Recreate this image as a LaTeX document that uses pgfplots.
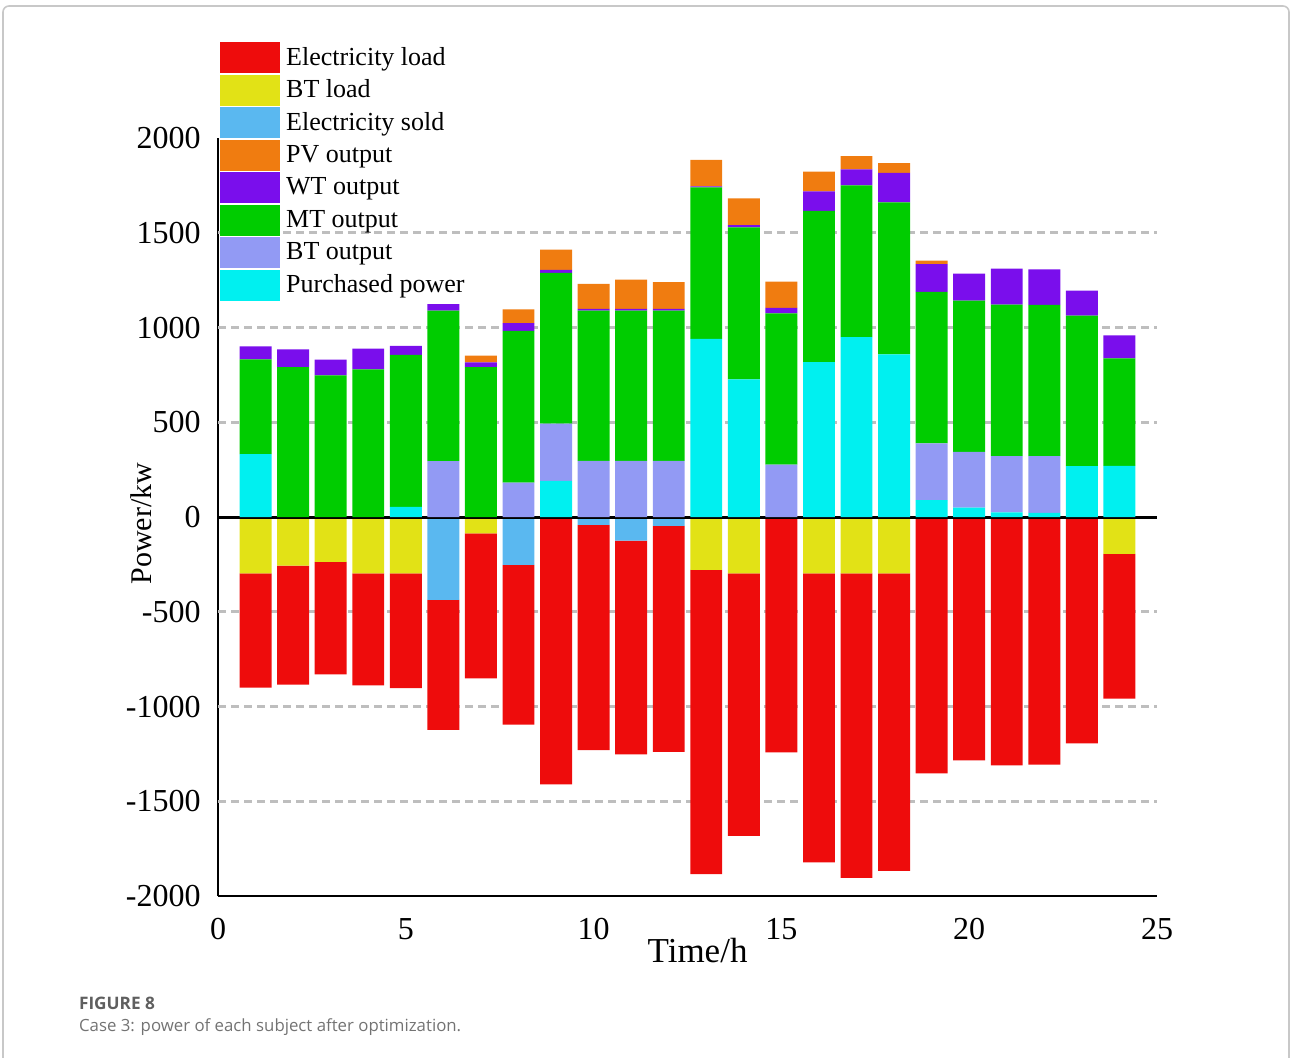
\documentclass[border=0pt]{standalone}
\usepackage{pgfplots}
\pgfplotsset{compat=1.18}
\usepackage{pgfplotstable}
\usepackage{fontspec}
\setmainfont{Liberation Serif}
\newfontfamily\capfont{Open Sans}

\definecolor{cEL}{RGB}{238,12,12}
\definecolor{cBTL}{RGB}{226,226,22}
\definecolor{cSOLD}{RGB}{90,184,240}
\definecolor{cPV}{RGB}{240,124,16}
\definecolor{cWT}{RGB}{122,14,236}
\definecolor{cMT}{RGB}{0,204,0}
\definecolor{cBTO}{RGB}{146,154,244}
\definecolor{cPT}{RGB}{0,240,240}
\definecolor{gridgray}{RGB}{190,190,190}
\definecolor{framegray}{RGB}{200,200,200}
\definecolor{capdark}{RGB}{95,95,95}
\definecolor{caplight}{RGB}{115,115,115}

% hourly power balance (kW); supply positive, consumption negative
\pgfplotstableread{
h  pt   bto  mt   wt   pv   btl   sold  el
1  332  0    500  68   0    -298  0     -602
2  0    0    791  93   0    -256  0     -628
3  0    0    747  83   0    -237  0     -593
4  0    0    779  109  0    -298  0     -590
5  54   0    802  47   0    -298  0     -605
6  0    295  794  34   0    0     -437  -686
7  0    0    791  25   35   -86   0     -765
8  0    182  800  41   73   0     -253  -843
9  191  302  795  16   107  0     0     -1411
10 0    296  793  9    132  0     -42   -1188
11 0    296  793  9    155  0     -125  -1128
12 0    296  793  9    141  0     -47   -1192
13 940  0    800  5    140  -279  0     -1606
14 726  0    802  12   142  -297  0     -1385
15 0    277  798  28   139  0     0     -1242
16 818  0    798  102  105  -297  0     -1526
17 949  0    801  84   70   -297  0     -1607
18 858  0    802  156  51   -297  0     -1570
19 89   299  800  147  18   0     0     -1353
20 49   295  798  142  0    0     0     -1284
21 25   296  800  190  0    0     0     -1311
22 22   299  798  188  0    0     0     -1307
23 268  0    795  132  0    0     0     -1195
24 270  0    567  121  0    -195  0     -763
}\powertable

\pgfplotsset{
  base/.style={
    at={(109pt,-448pt)}, anchor=south west,
    scale only axis, width=469.5pt, height=379pt,
    xmin=0, xmax=25, ymin=-2000, ymax=2000,
    ybar stacked, bar width=0.85,
  },
  sq/.style={legend image code/.code={\fill[#1] (0pt,-7.5pt) rectangle (29.5pt,7.5pt);}},
}

\begin{document}
\begin{tikzpicture}
\useasboundingbox (0,0) rectangle (645pt,-528.5pt);
\draw[framegray, line width=0.8pt, rounded corners=3pt] (1.5pt,-3pt) rectangle (644.5pt,-545pt);

% consumption side: stacked downward from zero
\begin{axis}[base,
  axis x line=bottom, axis y line=left,
  axis line style={-, line width=1.2pt},
  xtick={0,5,...,25}, ytick={-2000,-1500,...,2000},
  major tick length=0pt,
  tick label style={font=\fontsize{16}{18}\selectfont},
  /pgf/number format/assume math mode=true,
  /pgf/number format/1000 sep={},
  yticklabel style={inner sep=0pt, xshift=-8.5pt},
  xticklabel style={inner sep=0pt, yshift=-11pt},
  extra y ticks={-1500,-1000,-500,500,1000,1500},
  extra y tick labels={},
  extra y tick style={grid=major},
  major grid style={gridgray, line width=1.3pt, dash pattern=on 4pt off 2.5pt},
  xlabel={Time/h},
  xlabel style={font=\fontsize{17.5}{20}\selectfont, at={(axis description cs:0.5107,0)}, anchor=base, yshift=-33pt},
  ylabel={Power/kw},
  ylabel style={font=\fontsize{15}{18}\selectfont, at={(axis description cs:-0.0703,0.4914)}, anchor=base},
]
\addplot[fill=cBTL, draw=none] table[x=h, y=btl]{\powertable};
\addplot[fill=cSOLD, draw=none] table[x=h, y=sold]{\powertable};
\addplot[fill=cEL, draw=none] table[x=h, y=el]{\powertable};
\end{axis}

% supply side: stacked upward from zero
\begin{axis}[base, hide axis,
  legend cell align=left,
  legend style={at={(axis description cs:0.0021,1.1266)}, anchor=north west,
    draw=none, fill=none, inner sep=0pt, row sep=0.85pt, column sep=3pt,
    nodes={inner sep=0pt},
    font=\fontsize{13}{15}\selectfont},
]
\addlegendimage{sq=cEL}\addlegendentry{Electricity load}
\addlegendimage{sq=cBTL}\addlegendentry{BT load}
\addlegendimage{sq=cSOLD}\addlegendentry{Electricity sold}
\addlegendimage{sq=cPV}\addlegendentry{PV output}
\addlegendimage{sq=cWT}\addlegendentry{WT output}
\addlegendimage{sq=cMT}\addlegendentry{MT output}
\addlegendimage{sq=cBTO}\addlegendentry{BT output}
\addlegendimage{sq=cPT}\addlegendentry{Purchased power}
\addplot[fill=cPT, draw=none, forget plot] table[x=h, y=pt]{\powertable};
\addplot[fill=cBTO, draw=none, forget plot] table[x=h, y=bto]{\powertable};
\addplot[fill=cMT, draw=none, forget plot] table[x=h, y=mt]{\powertable};
\addplot[fill=cWT, draw=none, forget plot] table[x=h, y=wt]{\powertable};
\addplot[fill=cPV, draw=none, forget plot] table[x=h, y=pv]{\powertable};
\draw[black, line width=1.5pt] (axis cs:0,0) -- (axis cs:25,0);
\end{axis}

\node[anchor=base west, font=\capfont\bfseries\fontsize{8.6}{10}\selectfont, text=capdark] at (36pt,-504.5pt) {FIGURE 8};
\node[anchor=base west, font=\capfont\fontsize{8.4}{10}\selectfont, text=caplight] at (36pt,-515.5pt) {Case 3: power of each subject after optimization.};
\end{tikzpicture}
\end{document}
